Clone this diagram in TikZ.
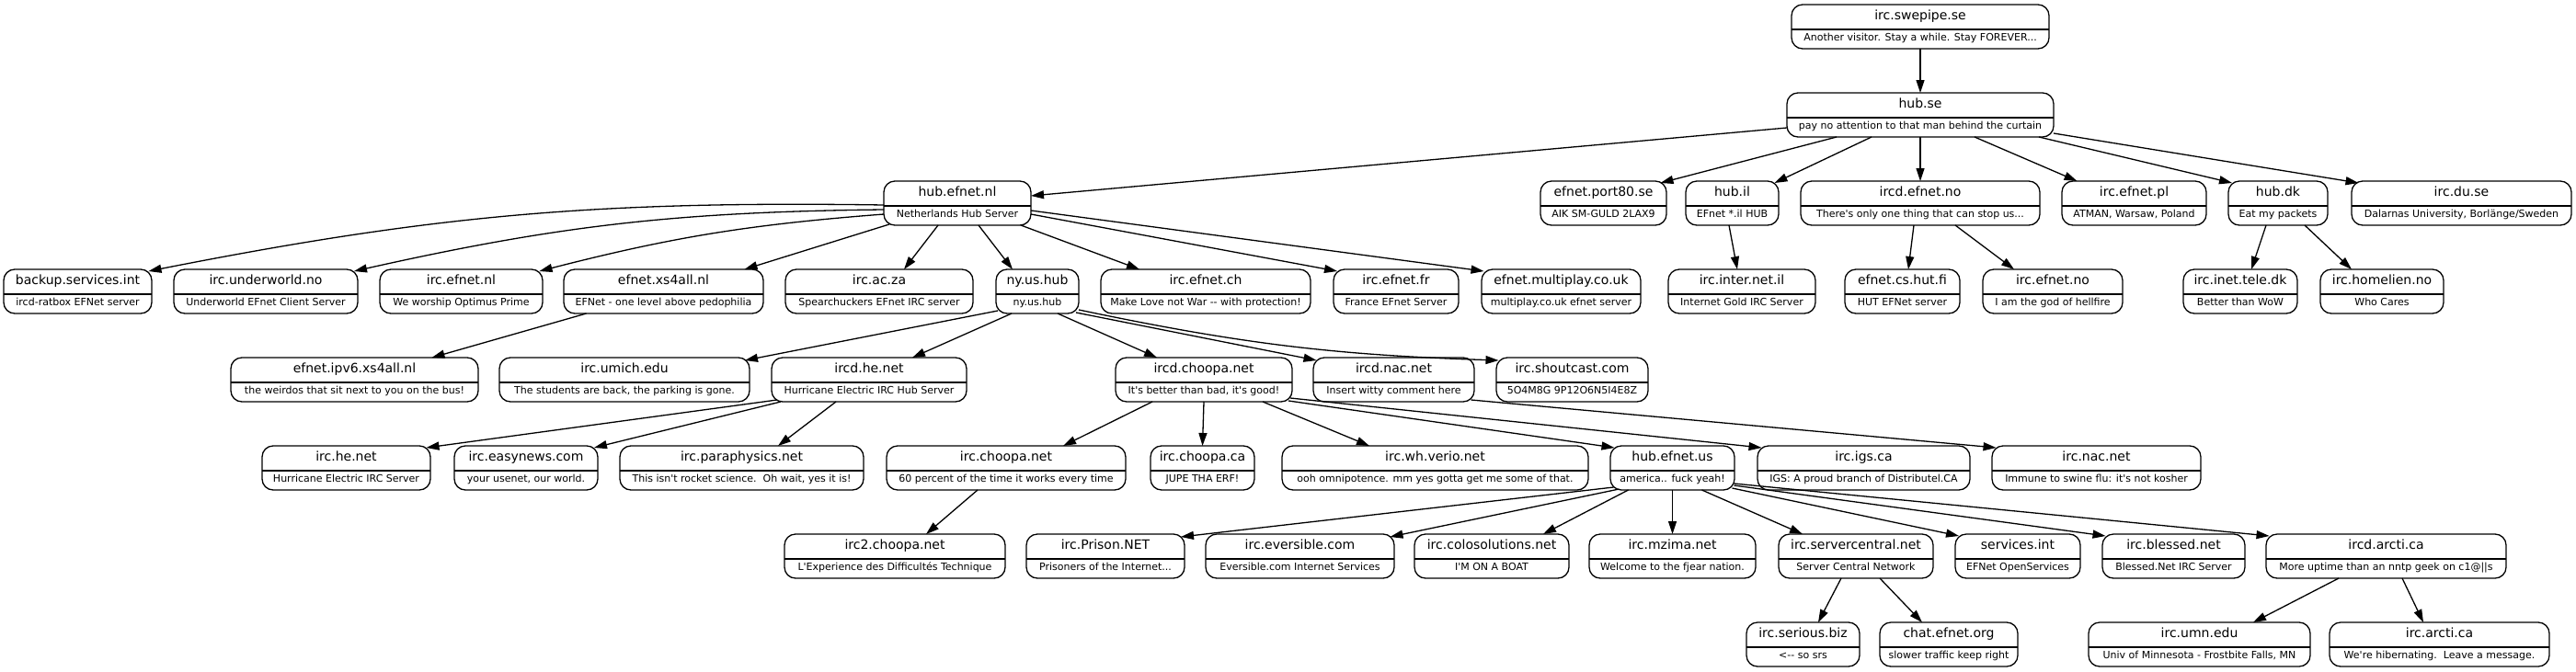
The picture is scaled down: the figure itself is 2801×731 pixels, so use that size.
\documentclass[tikz,border=0pt]{standalone}
\usepackage{fontspec}
\setmainfont{DejaVu Sans}[Ligatures=TeXOff]
\usetikzlibrary{calc,arrows.meta}
\tikzset{
  srvbox/.style={draw=black, line width=1.3pt, rounded corners=12pt, minimum height=48pt, inner sep=0pt, fill=white},
  divider/.style={draw=black, line width=2.2pt},
  ttl/.style={anchor=base, inner sep=0pt, font=\fontsize{14}{16}\selectfont},
  subt/.style={anchor=base, inner sep=0pt, font=\fontsize{11}{13}\selectfont},
  conn/.style={draw=black, line width=1.3pt, -{Triangle[length=14pt,width=9pt]}},
}
\newcommand\ircsrv[6]{%
  \node[srvbox, minimum width=#4pt] (#1) at (#2,#3) {};
  \draw[divider] ($(#1.west)+(0.6,3.3)$) -- ($(#1.east)+(-0.6,3.3)$);
  \node[ttl] (#1t) at ($(#1.center)+(0,-8)$) {#5};
  \node[subt] (#1s) at ($(#1.center)+(0,15.8)$) {#6};
}
\newcommand\ircedge[5][]{%
  \draw[conn,#1] ($(#2.center)+(#3)$) to ($(#4.center)+(#5)$);
}
\begin{document}
\begin{tikzpicture}[x=1pt,y=-1pt]
\fill[white] (0,0) rectangle (2801,731);
\useasboundingbox (0,0) rectangle (2801,731);
% row 1
\ircsrv{swepipe}{2088}{29}{280}{irc.swepipe.se}{Another visitor. Stay a while. Stay FOREVER...}
% row 2
\ircsrv{hubse}{2088}{125}{290}{hub.se}{pay no attention to that man behind the curtain}
% row 3
\ircsrv{hubefnetnl}{1041}{221}{160}{hub.efnet.nl}{Netherlands Hub Server}
\ircsrv{port80}{1743.5}{221}{137}{efnet.port80.se}{AIK SM-GULD 2LAX9}
\ircsrv{hubil}{1883.5}{221}{101}{hub.il}{EFnet *.il HUB}
\ircsrv{ircdefnetno}{2088}{221}{260}{ircd.efnet.no}{There's only one thing that can stop us...}
\ircsrv{efnetpl}{2320.5}{221}{157}{irc.efnet.pl}{ATMAN, Warsaw, Poland}
\ircsrv{hubdk}{2477}{221}{108}{hub.dk}{Eat my packets}
\ircsrv{duse}{2676.5}{221}{239}{irc.du.se}{Dalarnas University, Borlänge/Sweden}
% row 4
\ircsrv{backup}{84.5}{317}{161}{backup.services.int}{ircd-ratbox EFNet server}
\ircsrv{underworld}{289}{317}{200}{irc.underworld.no}{Underworld EFnet Client Server}
\ircsrv{efnetnl}{501.5}{317}{177}{irc.efnet.nl}{We worship Optimus Prime}
\ircsrv{xs4all}{721.5}{317}{217}{efnet.xs4all.nl}{EFNet - one level above pedophilia}
\ircsrv{acza}{956}{317}{204}{irc.ac.za}{Spearchuckers EFnet IRC server}
\ircsrv{nyushub}{1128}{317}{90}{ny.us.hub}{ny.us.hub}
\ircsrv{efnetch}{1311}{317}{228}{irc.efnet.ch}{Make Love not War -{}- with protection!}
\ircsrv{efnetfr}{1518}{317}{136}{irc.efnet.fr}{France EFnet Server}
\ircsrv{multiplay}{1697.5}{317}{173}{efnet.multiplay.co.uk}{multiplay.co.uk efnet server}
\ircsrv{internetil}{1894}{317}{160}{irc.inter.net.il}{Internet Gold IRC Server}
\ircsrv{cshutfi}{2068.5}{317}{125}{efnet.cs.hut.fi}{HUT EFNet server}
\ircsrv{efnetno}{2232}{317}{152}{irc.efnet.no}{I am the god of hellfire}
\ircsrv{inettele}{2436}{317}{124}{irc.inet.tele.dk}{Better than WoW}
\ircsrv{homelien}{2590}{317}{134}{irc.homelien.no}{Who Cares}
% row 5
\ircsrv{ipv6}{385.5}{413}{269}{efnet.ipv6.xs4all.nl}{the weirdos that sit next to you on the bus!}
\ircsrv{umich}{679}{413}{272}{irc.umich.edu}{The students are back, the parking is gone.}
\ircsrv{ircdhe}{945}{413}{212}{ircd.he.net}{Hurricane Electric IRC Hub Server}
\ircsrv{ircdchoopa}{1309}{413}{192}{ircd.choopa.net}{It's better than bad, it's good!}
\ircsrv{ircdnac}{1515.5}{413}{175}{ircd.nac.net}{Insert witty comment here}
\ircsrv{shoutcast}{1709.5}{413}{165}{irc.shoutcast.com}{5O4M8G 9P12O6N5I4E8Z}
% row 6
\ircsrv{irche}{376.5}{509}{183}{irc.he.net}{Hurricane Electric IRC Server}
\ircsrv{easynews}{572}{509}{156}{irc.easynews.com}{your usenet, our world.}
\ircsrv{paraphysics}{806.5}{509}{265}{irc.paraphysics.net}{This isn't rocket science.\ \ Oh wait, yes it is!}
\ircsrv{ircchoopa}{1094}{509}{260}{irc.choopa.net}{60 percent of the time it works every time}
\ircsrv{choopaca}{1307.5}{509}{113}{irc.choopa.ca}{JUPE THA ERF!}
\ircsrv{whverio}{1560.5}{509}{333}{irc.wh.verio.net}{ooh omnipotence. mm yes gotta get me some of that.}
\ircsrv{hubefnetus}{1818.5}{509}{135}{hub.efnet.us}{america.. fuck yeah!}
\ircsrv{igsca}{2026.5}{509}{231}{irc.igs.ca}{IGS: A proud branch of Distributel.CA}
\ircsrv{ircnac}{2279.5}{509}{227}{irc.nac.net}{Immune to swine flu: it's not kosher}
% row 7
\ircsrv{irc2choopa}{973}{605}{240}{irc2.choopa.net}{L'Experience des Difficultés Technique}
\ircsrv{prison}{1202}{605}{172}{irc.Prison.NET}{Prisoners of the Internet...}
\ircsrv{eversible}{1413.5}{605}{205}{irc.eversible.com}{Eversible.com Internet Services}
\ircsrv{colo}{1622}{605}{168}{irc.colosolutions.net}{I'M ON A BOAT}
\ircsrv{mzima}{1818.5}{605}{181}{irc.mzima.net}{Welcome to the fjear nation.}
\ircsrv{servercentral}{2018}{605}{168}{irc.servercentral.net}{Server Central Network}
\ircsrv{servicesint}{2194}{605}{136}{services.int}{EFNet OpenServices}
\ircsrv{blessed}{2363.5}{605}{155}{irc.blessed.net}{Blessed.Net IRC Server}
\ircsrv{ircdarcti}{2594.5}{605}{261}{ircd.arcti.ca}{More uptime than an nntp geek on c1@||s}
% row 8
\ircsrv{serious}{1960.5}{701}{123}{irc.serious.biz}{<-{}- so srs}
\ircsrv{chatefnet}{2119}{701}{150}{chat.efnet.org}{slower traffic keep right}
\ircsrv{umn}{2391.5}{701}{241}{irc.umn.edu}{Univ of Minnesota - Frostbite Falls, MN}
\ircsrv{arcti}{2652.5}{701}{239}{irc.arcti.ca}{We're hibernating.\ \ Leave a message.}
% edges
\ircedge{swepipe}{0,24}{hubse}{0,-24}
\ircedge{hubse}{-145,14}{hubefnetnl}{80,-8}
\ircedge{hubse}{-91,24}{port80}{62,-22}
\ircedge{hubse}{-53,24}{hubil}{46,-22}
\ircedge{hubse}{0,24}{ircdefnetno}{0,-24}
\ircedge{hubse}{59,24}{efnetpl}{-62,-24}
\ircedge{hubse}{129,24}{hubdk}{-50,-22}
\ircedge{hubse}{145,20}{duse}{-112,-22}
\ircedge[bend right=6]{hubefnetnl}{-80,2}{backup}{77,-22}
\ircedge[bend right=6]{hubefnetnl}{-80,7}{underworld}{96,-22}
\ircedge[bend right=5]{hubefnetnl}{-80,12}{efnetnl}{85,-22}
\ircedge{hubefnetnl}{-74,23}{xs4all}{88,-24}
\ircedge{hubefnetnl}{-21,24}{acza}{27,-24}
\ircedge{hubefnetnl}{23,24}{nyushub}{-27,-24}
\ircedge{hubefnetnl}{69,24}{efnetch}{-72,-24}
\ircedge{hubefnetnl}{80,12}{efnetfr}{-64,-22}
\ircedge{hubefnetnl}{80,8}{multiplay}{-84,-22}
\ircedge{xs4all}{-84,24}{ipv6}{84,-24}
\ircedge{nyushub}{-43,21}{umich}{131,-21}
\ircedge{nyushub}{-28,24}{ircdhe}{47,-24}
\ircedge{nyushub}{22,24}{ircdchoopa}{-51,-24}
\ircedge{nyushub}{42,23}{ircdnac}{-84,-21}
\ircedge[bend right=5]{nyushub}{45,20}{shoutcast}{-80,-21}
\ircedge{hubil}{-3.5,24}{internetil}{-5,-24}
\ircedge{ircdefnetno}{-7,24}{cshutfi}{6.5,-24}
\ircedge{ircdefnetno}{38,24}{efnetno}{-42,-24}
\ircedge{hubdk}{-13,24}{inettele}{12,-24}
\ircedge{hubdk}{29,24}{homelien}{-33,-24}
\ircedge{ircdhe}{-100,22}{irche}{87,-22}
\ircedge{ircdhe}{-96,24}{easynews}{74,-22}
\ircedge{ircdhe}{-36,24}{paraphysics}{39.5,-24}
\ircedge{ircdchoopa}{-56,24}{ircchoopa}{62,-24}
\ircedge{ircdchoopa}{0,24}{choopaca}{0,-24}
\ircedge{ircdchoopa}{64,24}{whverio}{-71.5,-24}
\ircedge{ircdchoopa}{92,23}{hubefnetus}{-63,-22}
\ircedge{ircdchoopa}{94,20}{igsca}{-111,-22}
\ircedge{ircdnac}{84,22}{ircnac}{-109,-22}
\ircedge{ircchoopa}{-31,24}{irc2choopa}{34,-24}
\ircedge{hubefnetus}{-64,21}{prison}{82,-21}
\ircedge{hubefnetus}{-58,23}{eversible}{98,-21}
\ircedge{hubefnetus}{-48,24}{colo}{56,-24}
\ircedge{hubefnetus}{0,24}{mzima}{0,-24}
\ircedge{hubefnetus}{32,24}{servercentral}{-58,-24}
\ircedge{hubefnetus}{65,22}{servicesint}{-64,-22}
\ircedge{hubefnetus}{67,19}{blessed}{-74,-22}
\ircedge{hubefnetus}{67,17}{ircdarcti}{-127,-22}
\ircedge{servercentral}{-16,24}{serious}{16.5,-24}
\ircedge{servercentral}{26,24}{chatefnet}{-29,-24}
\ircedge{ircdarcti}{-51.5,24}{umn}{58.5,-24}
\ircedge{ircdarcti}{17.5,24}{arcti}{-17.5,-24}
\end{tikzpicture}
\end{document}
